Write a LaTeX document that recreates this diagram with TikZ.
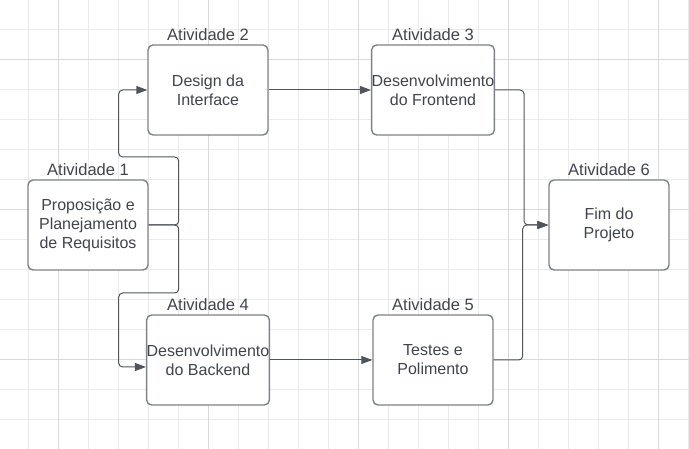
\documentclass[tikz,border=0pt]{standalone}
\usepackage{fontspec}
\setmainfont{Liberation Sans}
\usepackage{tikz}
\usetikzlibrary{positioning,arrows.meta}

\definecolor{boxline}{HTML}{7E8288}
\definecolor{wire}{HTML}{50555C}
\definecolor{ink}{HTML}{40454D}
\definecolor{gridminor}{HTML}{EBEBEB}
\definecolor{gridmajor}{HTML}{D9D9D9}

\begin{document}
\begin{tikzpicture}[x=1pt,y=-1pt,
  box/.style={draw=boxline,line width=1.4pt,rounded corners=5pt,fill=white,
    minimum width=120pt,minimum height=90pt,inner sep=0pt,align=center,
    text=ink,font=\fontsize{16}{19}\selectfont},
  tag/.style={inner sep=0pt,text=ink,font=\fontsize{16.5}{19}\selectfont},
  conn/.style={draw=wire,line width=1pt,rounded corners=4pt,
    -{Triangle[length=11pt,width=8pt]}}]
  \useasboundingbox[fill=white] (0,0) rectangle (689,449);
  % grid
  \foreach \i in {0,...,22}
    \draw[gridminor,line width=0.8pt] ({28.5+30*\i},0) -- ({28.5+30*\i},449);
  \foreach \i in {0,...,13}
    \draw[gridminor,line width=0.8pt] (0,{29+30*\i}) -- (689,{29+30*\i});
  \foreach \i in {1,6,...,21}
    \draw[gridmajor,line width=0.8pt] ({28.5+30*\i},0) -- ({28.5+30*\i},449);
  \foreach \i in {1,6,11}
    \draw[gridmajor,line width=0.8pt] (0,{29+30*\i}) -- (689,{29+30*\i});

  % activities
  \node[box] (a1) at (88,225) {Proposição e\\Planejamento\\de Requisitos};
  \node[box] (a2) at (208,90) {Design da\\Interface};
  \node[box] (a3) at (433,90) {Desenvolvimento\\do Frontend};
  \node[box] (a4) at (208,360) {Desenvolvimento\\do Backend};
  \node[box] (a5) at (433,360) {Testes e\\Polimento};
  \node[box] (a6) at (609,225) {Fim do\\Projeto};

  \node[tag,above=3pt of a1] (t1) {Atividade 1};
  \node[tag,above=3pt of a2] (t2) {Atividade 2};
  \node[tag,above=3pt of a3] (t3) {Atividade 3};
  \node[tag,above=3pt of a4] (t4) {Atividade 4};
  \node[tag,above=3pt of a5] (t5) {Atividade 5};
  \node[tag,above=3pt of a6] (t6) {Atividade 6};

  % connectors
  \draw[conn] (a1.east) -- ++(30,0) |- ++(-60,-68) |- (a2.west);
  \draw[conn] (a1.east) -- ++(30,0) |- ++(-60,68) |- ([yshift=-7pt]a4.west);
  \draw[conn] (a2.east) -- (a3.west);
  \draw[conn] (a4.east) -- (a5.west);
  \draw[conn] (a3.east) -- ++(29,0) |- (a6.west);
  \draw[conn] (a5.east) -- ++(29,0) |- (a6.west);
\end{tikzpicture}
\end{document}
